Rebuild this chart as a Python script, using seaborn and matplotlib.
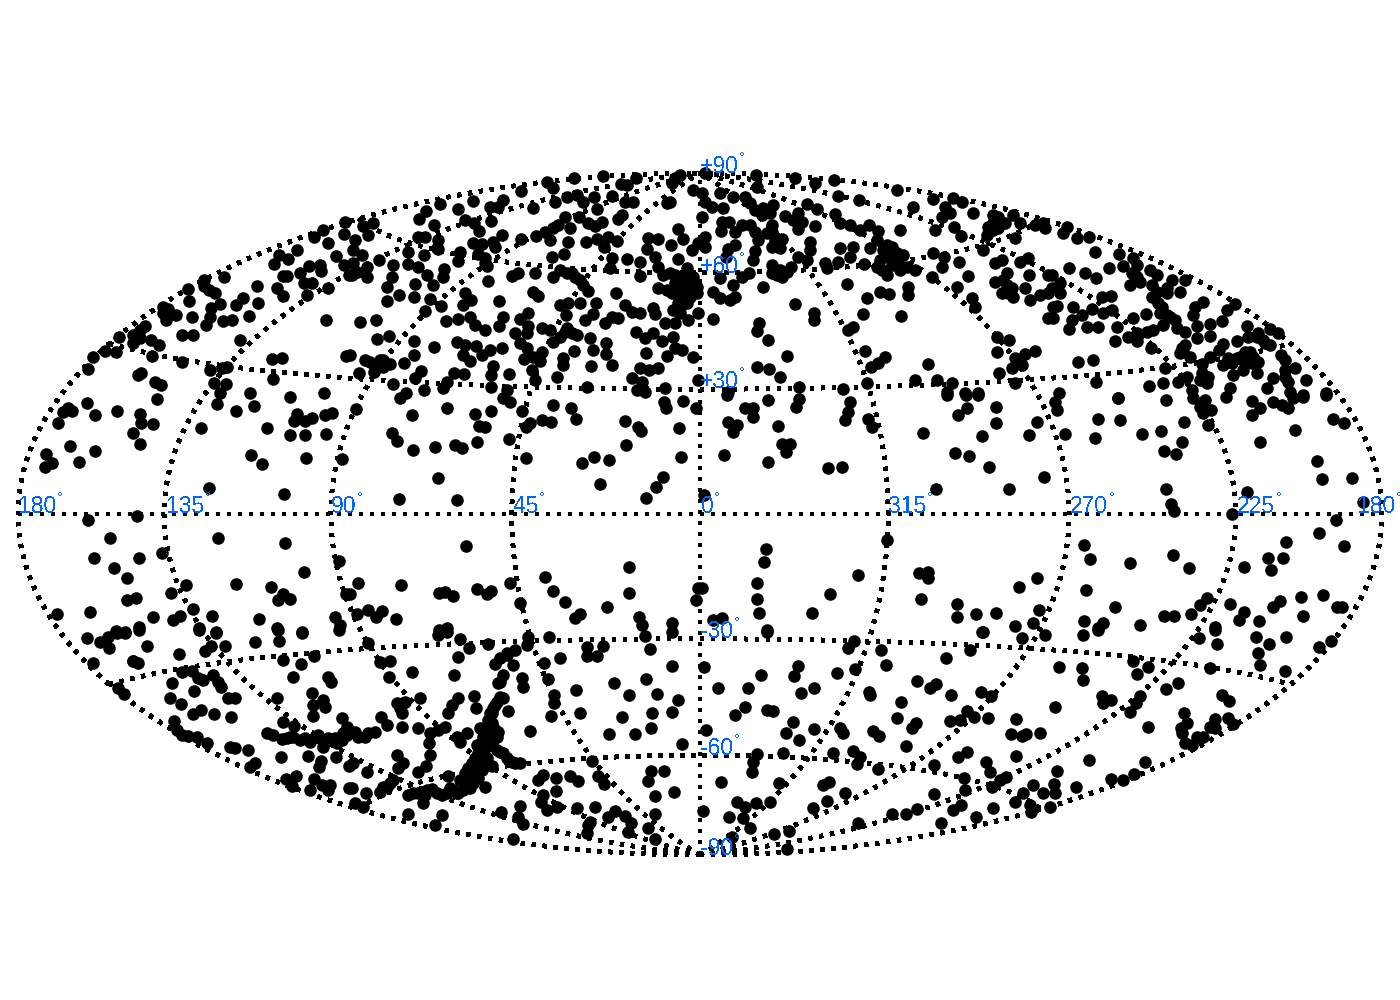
import numpy as np
import matplotlib
matplotlib.use("Agg")
import matplotlib.pyplot as plt
import seaborn as sns
import pandas as pd

# Source positions, grouped by sky patch.
# Each patch is read at 3x, relative to its own corner.
north_1 = [(1035,187),(970,211),(943,230),(1032,222),(983,249),(1008,289),(1032,315),(1048,345),(890,270),(838,284),(865,298),(823,312),(927,318),(961,316),(963,332),(899,338),(848,347),(860,348),(913,368),(935,370),(983,385),(922,406),(770,379),(830,385),(849,407),(672,352),(612,360),(612,378),(628,390),(645,400),(565,388),(567,423),(730,415),(707,436),(775,430),(660,432),(633,445),(630,470),(617,495),(670,482),(697,481),(747,468),(978,479),(575,472),(528,466),(505,447),(488,442),(490,460),(498,480),(436,497),(420,510),(357,530),(398,525),(400,548),(420,535),(453,540),(477,555),(546,526),(580,526),(720,539),(280,592),(315,574),(347,577),(264,627),(457,589),(545,606),(1038,587),(815,598),(846,593),(630,629),(665,625),(680,622),(422,640),(415,645),(465,665),(483,676),(642,668),(678,673),(818,657),(660,698),(750,698),(870,710),(973,700)]
north_2 = [(672,55),(760,48),(858,55),(590,65),(610,85),(512,93),(830,75),(812,72),(965,70),(975,55),(990,45),(1030,90),(680,105),(650,112),(615,125),(700,125),(733,112),(785,108),(825,125),(850,125),(960,125),(950,130),(740,148),(550,145),(458,120),(420,140),(445,140),(370,122),(323,147),(270,133),(228,153),(208,178),(345,180),(372,188),(422,183),(388,213),(252,196),(70,190),(38,197),(55,225),(815,165),(803,178),(688,170),(645,172),(715,188),(735,197),(757,187),(625,195),(608,205),(585,215),(558,228),(660,205),(600,240),(655,245),(513,238),(457,225),(430,245),(205,230),(225,232),(265,240),(262,265),(397,252),(368,248),(435,262),(383,283),(405,295),(410,318),(330,275),(325,303),(222,285),(175,275),(265,268),(708,245),(740,238),(775,232),(800,242),(762,262),(983,207),(895,235),(925,238),(963,256),(1000,238),(1025,270),(890,268),(915,292),(925,320),(940,345),(985,297),(1045,250),(785,295),(780,325),(832,298),(870,307),(870,347),(605,290),(643,283),(15,240),(10,270),(35,285),(87,300),(10,310),(50,320),(20,335),(5,345),(52,352),(130,315),(125,350),(110,380),(175,312),(205,320),(195,372),(230,345),(250,375),(282,328),(280,352),(193,410),(148,404),(112,424),(240,418),(274,438),(225,452),(345,400),(362,420),(340,435),(448,422),(413,362),(485,348),(505,340),(555,338),(610,350),(630,330),(665,340),(690,360),(700,375),(715,393),(550,395),(565,407),(797,398),(630,435),(655,430),(690,428),(738,430),(648,465),(730,462),(705,480),(825,435),(845,455),(870,458),(908,445),(915,462),(975,345),(1010,325),(990,370),(1030,350),(925,385),(950,390),(985,390),(1000,420),(970,450),(990,445),(1040,400),(1015,480),(945,490),(975,490),(1045,460),(30,485),(77,480),(288,482),(323,477),(360,470),(375,495),(405,510),(458,470),(448,498),(535,460),(510,478),(535,497),(495,520),(510,550),(575,505),(600,510),(650,505),(630,530),(610,545),(680,525),(720,535),(785,470),(765,490),(805,475),(858,515),(885,535),(910,520),(935,543),(970,530),(975,565),(995,570),(950,587),(1030,590),(768,550),(768,582),(730,570),(672,573),(530,565),(575,575),(522,597),(570,603),(640,595),(640,615),(723,617),(785,615),(888,580),(82,538),(118,527),(192,544),(252,562),(322,545),(345,555),(378,557),(420,570),(455,563),(395,585),(340,585),(360,602),(45,600),(90,600),(120,612),(75,620),(100,620),(72,635),(162,610),(192,585),(212,632),(195,655),(0,585),(28,640),(130,672),(168,700),(222,690),(312,640),(342,643),(290,665),(280,685),(430,617),(422,645),(478,642),(545,630),(555,660),(622,650),(870,625),(925,625),(898,630),(845,655),(875,665),(860,690),(422,682),(470,690),(712,682),(945,685),(1045,660),(885,695),
           (960,340),(975,370),(1000,350),(1010,380),(1000,400),(1020,410),(965,400),(1010,430),(985,430),(990,460),(1040,380),(975,400),(1015,360),(645,515),(665,520),(530,520),(550,590),(100,600),(60,605),(405,310),(650,340),(675,350)]
north_3 = [(168,45),(285,53),(345,70),(403,60),(170,82),(15,40),(60,100),(100,112),(135,110),(150,130),(415,108),(478,120),(592,90),(640,140),(700,118),(760,115),(785,125),(735,140),(750,160),(725,172),(818,160),(5,100),(15,125),(70,143),(35,140),(165,150),(185,165),(220,135),(210,160),(255,167),(295,160),(320,133),(350,148),(280,180),(305,185),(295,208),(345,197),(405,163),(420,190),(450,195),(480,210),(508,195),(535,212),(5,170),(65,185),(88,185),(63,212),(105,215),(125,195),(150,195),(165,215),(215,195),(200,218),(175,240),(245,238),(600,210),(705,210),(762,202),(782,228),(530,240),(560,255),(510,265),(575,260),(15,230),(15,260),(105,255),(85,268),(77,290),(215,260),(240,265),(330,245),(330,270),(320,300),(295,290),(165,273),(160,300),(420,265),(458,260),(450,290),(375,310),(415,305),(380,325),(493,312),(530,320),(565,290),(590,310),(610,285),(560,345),(575,315),(620,320),(645,330),(700,280),(733,290),(727,322),(778,305),(803,348),(695,352),(215,315),(272,320),(215,340),(245,350),(260,335),(148,340),(125,350),(100,375),(60,355),(40,395),(60,415),(90,420),(105,410),(188,382),(442,373),(500,415),(540,397),(567,403),(623,382),(623,405),(770,380),(815,413),(825,440),(285,433),(343,458),(343,480),(38,478),(488,463),(603,467),(178,488),(170,512),(205,540),(460,500),(445,510),(262,587),(495,572),(890,530),(928,540),(892,577),(555,590),(535,608),(513,620),(683,611),(172,622),(207,627),(240,650),(298,680),(430,688),(500,670),(645,660),(712,660),(755,670),(740,695),(795,700),(835,700),(898,640),(945,668),(85,697),(935,625),(965,615),(1005,572),(975,582),(945,595),(905,300),(885,310),(960,305),(985,295),(988,345),(920,340),(885,365),(910,360),(935,385),(905,400),(940,410),(975,385),(990,420),(1020,405),(1045,400),(1045,345),(880,165),(880,190),(863,200),(895,205),(860,225),(945,235),(915,190),(938,165),(960,190),(1005,195),(1035,205),(1045,475),(850,270),(1030,190),
           (545,330),(600,330),(540,300),(590,280),(550,270),(230,345),(240,330),(190,145),(215,215),(225,240),(920,375),(925,400),(880,210),(895,170)]
north_4 = [(52,200),(40,218),(80,235),(118,232),(135,275),(208,283),(248,295),(220,318),(262,315),(58,323),(105,340),(138,355),(176,325),(5,345),(300,330),(320,345),(365,360),(405,360),(255,345),(240,375),(270,365),(305,375),(350,385),(390,397),(305,410),(325,430),(335,440),(458,427),(435,442),(555,432),(530,450),(430,465),(155,410),(183,408),(30,370),(30,400),(5,385),(10,440),(20,438),(8,475),(70,442),(125,448),(95,465),(65,480),(58,507),(110,500),(143,502),(185,450),(160,460),(340,495),(350,465),(375,480),(380,505),(405,515),(442,497),(480,492),(515,483),(250,475),(289,463),(200,500),(195,542),(235,530),(260,520),(260,542),(290,515),(310,510),(442,533),(480,528),(592,498),(660,508),(685,520),(620,530),(595,530),(645,550),(660,555),(562,542),(520,553),(508,570),(480,592),(302,565),(395,565),(405,555),(390,580),(420,590),(455,612),(455,640),(470,670),(585,575),(560,595),(610,590),(625,605),(520,615),(550,645),(580,630),(622,640),(692,585),(705,600),(735,625),(705,630),(715,665),(670,655),(650,685),(767,660),(540,685),(425,690),(410,650),(385,665),(345,625),(340,668),(297,678),(83,607),(128,601),(138,665),(28,700),(205,715),(760,705),(720,695),(828,700),(570,590),(600,575),
           (245,340),(260,350),(320,395),(350,400),(330,460),(360,470),(400,575),(450,660),(475,650),(535,595),(545,610),(580,600),(605,610),(640,540),(625,520),(705,650)]
middle_1 = [(470,12),(260,25),(350,47),(205,40),(190,50),(217,48),(285,60),(175,84),(420,57),(423,85),(460,88),(400,113),(421,147),(210,152),(138,178),(155,205),(135,215),(236,200),(285,168),(652,27),(708,48),(763,33),(603,98),(800,99),(890,57),(882,78),(915,78),(937,70),(975,60),(995,55),(870,121),(916,120),(978,116),(753,181),(787,208),(918,188),(1025,193),(628,280),(852,297),(265,376),(410,363),(330,430),(653,428),(855,444),(485,473),(282,490),(418,490),(343,520),(382,549),(1017,498),(911,532),(558,571),(514,595),(708,567),(812,577),(848,598),(835,615),(870,612),(1038,597),(382,615),(407,608),(170,658),(270,652),(580,642),(637,662),(540,663),(518,676),(460,667),(778,672),(1005,665),(1020,690),(417,697),(347,708),(375,710),(598,698),(830,700),(647,712),(905,710)]
middle_2 = [(18,42),(185,60),(290,38),(375,58),(422,49),(388,94),(405,96),(127,114),(140,138),(188,165),(255,155),(315,150),(335,158),(382,141),(478,132),(527,189),(263,250),(148,312),(320,316),(460,10),(480,20),(515,48),(608,29),(662,40),(678,72),(575,76),(603,82),(540,83),(528,97),(825,77),(865,97),(872,107),(827,150),(943,20),(947,40),(1000,19),(1038,38),(988,100),(992,187),(697,203),(733,186),(776,196),(750,267),(940,247),(917,275),(888,309),(347,454),(838,515),(837,593),(586,546),(610,589),(645,622),(481,563),(510,625),(771,635),(690,657),(675,670),(867,665),(875,690),(965,685),(1045,580),(1037,615),(24,565),(152,570),(268,595),(285,590),(310,603),(380,581),(423,587),(410,596),(0,598),(55,645),(95,647),(22,658),(78,667),(137,673),(268,705),(290,700),(150,8)]
middle_3 = [(205,15),(298,12),(288,37),(135,40),(158,38),(160,65),(85,80),(110,90),(100,112),(235,92),(72,181),(245,147),(270,148),(259,172),(205,200),(385,218),(425,215),(450,20),(445,50),(435,75),(505,72),(517,95),(670,115),(740,0),(797,0),(835,0),(888,36),(887,85),(800,40),(775,60),(1010,80),(987,120),(847,124),(766,173),(807,183),(868,217),(1033,247),(707,282),(927,283),(12,300),(562,435),(197,463),(193,502),(475,541),(171,565),(170,613),(178,655),(391,598),(336,654),(657,533),(685,530),(685,550),(664,611),(1011,550),(956,576),(772,628),(772,665),(829,658),(889,653),(1016,644),(1000,683),(945,693),(848,710),(5,580),(40,675),(65,670),(200,705),(82,0)]
middle_4 = [(205,10),(347,15),(430,10),(465,15),(450,35),(483,45),(460,55),(528,5),(607,17),(630,40),(607,60),(670,20),(695,30),(715,40),(730,10),(760,5),(828,0),(143,71),(211,75),(403,80),(473,90),(850,73),(882,84),(736,104),(277,116),(333,109),(46,116),(136,128),(631,141),(397,142),(341,168),(379,177),(802,197),(817,251),(906,248),(347,283),(591,290),(940,322),(362,328),(373,348),(547,356),(857,376),(808,414),(709,441),(883,452),(102,450),(120,493),(368,481),(240,503),(416,520),(654,490),(698,489),(664,525),(583,516),(109,585),(196,637),(472,610),(450,630),(424,657),(341,664),(373,664),(541,628),(582,650),(568,675),(626,679),(670,635),(690,617),(752,606),(820,601),(860,635),(875,636),(760,664),(103,679),(160,683),(145,700),(271,691),(495,697),(15,20),(20,45)]
south_1 = [(260,25),(300,35),(325,20),(350,10),(375,10),(327,55),(440,47),(417,0),(598,0),(647,10),(766,35),(837,33),(833,0),(905,10),(1018,0),(632,47),(615,63),(675,47),(538,73),(280,100),(398,92),(413,100),(849,90),(943,78),(902,102),(878,142),(985,140),(993,157),(545,125),(575,122),(595,145),(608,150),(640,135),(655,155),(663,172),(516,159),(583,184),(510,205),(543,223),(683,204),(705,204),(830,204),(935,190),(940,225),(970,210),(975,230),(940,258),(580,252),(604,239),(641,253),(692,262),(1027,263),(850,277),(882,287),(523,274),(530,300),(545,315),(565,318),(590,320),(800,310),(820,315),(845,327),(880,320),(900,330),(930,335),(955,315),(985,325),(1040,290),(1025,330),(968,350),(620,338),(690,352),(705,353),(745,360),(843,381),(925,378),(1009,382),(962,392),(958,412),(765,400),(750,412),(857,447),(888,438),(875,468),(941,448),(965,465),(990,465),(930,480),(985,480),(1048,408),(1048,475),(355,175),(373,193),
           (860,325),(915,325),(945,320),(1005,325),(1010,340),(1040,315),(1030,310),(870,320),(965,330),(400,92)]
south_2 = [(55,40),(265,15),(290,5),(330,28),(357,55),(415,43),(325,80),(90,95),(120,92),(117,142),(187,127),(313,134),(470,70),(495,60),(535,20),(530,45),(435,102),(490,105),(597,21),(712,50),(760,47),(710,78),(742,77),(901,56),(885,18),(965,5),(630,83),(581,100),(966,109),(517,145),(520,170),(593,147),(450,155),(460,135),(793,160),(889,147),(678,180),(838,194),(922,193),(985,211),(613,195),(613,220),(460,205),(435,225),(140,220),(165,215),(210,205),(325,205),(305,225),(295,250),(372,198),(377,235),(475,242),(425,250),(690,250),(603,259),(817,262),(905,250),(967,246),(92,262),(110,285),(155,250),(155,292),(285,292),(205,295),(240,310),(265,300),(350,310),(320,320),(330,335),(390,295),(430,290),(440,320),(540,302),(776,311),(855,312),(903,293),(995,341),(15,305),(45,320),(75,305),(425,335),(380,345),(140,375),(240,376),(238,340),(400,365),(460,370),(485,395),(510,400),(10,400),(160,398),(145,415),(227,408),(205,425),(50,425),(727,394),(745,438),(763,463),(903,423),(895,453),(943,424),(395,400),(370,420),(425,408),(345,445),(380,440),(405,470),(295,437),(300,475),(325,490),(275,495),(245,478),(205,490),(175,495),(218,520),(90,485),(130,450),(110,470),(48,488),(5,475),(15,520),(40,530),(565,450),(580,435),(618,443),(660,437),(683,452),(619,483),(916,498),(973,485),(578,495),(572,515),(590,540),(620,530),(511,527),(505,560),(520,582),(682,535),(735,532),(916,552),(775,560),(795,543),(825,557),(843,578),(833,605),(893,595),(915,628),(453,545),(173,553),(277,555),(255,585),(488,626),(715,585),(710,610),(720,575),
           (450,200),(440,215),(430,235),(420,250),(415,270),(425,280),(410,295),(435,300),(420,310),(445,305),(400,320),(430,320),(410,335),(395,345),(405,355),(420,345),(385,370),(400,375),(375,385),(395,390),(365,400),(385,405),(410,385),(355,415),(375,425),(395,420),(345,430),(365,440),(385,445),(350,455),(330,450),(370,460),(360,475),(440,360),(450,365),(470,385),(495,400),(415,405),(190,490),(230,480),(260,490),(290,490),(310,480),(340,480),(225,495),(320,490),(160,220),(150,235),(25,320),(55,310),(100,470),(120,460),(470,75),(450,85),(445,160)]
south_3 = [(200,5),(847,5),(965,25),(1035,15),(443,55),(462,33),(544,60),(810,60),(737,84),(558,104),(12,110),(295,109),(283,138),(182,135),(412,129),(466,116),(55,175),(143,175),(304,189),(343,175),(651,154),(707,163),(690,175),(508,185),(510,195),(753,195),(843,185),(873,197),(603,215),(136,230),(106,255),(200,240),(220,243),(592,264),(279,277),(648,280),(637,293),(750,272),(780,270),(800,243),(822,262),(864,265),(949,266),(257,308),(343,296),(420,295),(430,308),(520,302),(537,318),(298,329),(18,301),(932,311),(965,318),(978,312),(1020,308),(617,347),(170,372),(160,395),(157,427),(248,369),(400,370),(458,363),(480,380),(472,402),(535,418),(702,405),(773,380),(802,365),(947,377),(858,396),(869,427),(791,443),(63,455),(238,460),(370,465),(388,456),(795,480),(875,470),(900,450),(918,440),(1000,465),(1030,490),(436,490),(702,492),(382,512),(338,534),(945,515),(970,490),(990,525),(992,545),(110,516),(135,530),(168,519),(211,516),(8,543),(88,561),(130,563),(150,595),(783,525),(760,541),(879,535),(829,561),(722,578),(652,536),(617,552),(575,552),(475,580),(268,603),(222,612),(97,622),(261,657)]
south_4 = [(98,15),(145,0),(447,25),(495,0),(500,43),(617,20),(658,43),(709,22),(625,68),(629,104),(808,52),(843,34),(250,92),(295,110),(260,133),(28,112),(95,113),(99,151),(479,115),(706,122),(384,158),(347,178),(155,197),(160,220),(183,210),(270,197),(257,220),(240,247),(515,195),(537,213),(16,232),(402,250),(412,280),(392,295),(395,310),(495,268),(480,290),(495,295),(535,263),(548,283),(293,291),(405,340),(425,345),(440,322),(460,322),(116,390),(286,396),(20,422),(253,431),(182,446),(219,450),(79,471),(12,462),(15,488),(0,530)]

patches = [(north_1,0,160),(north_2,350,160),(north_3,700,160),(north_4,1050,160),
           (middle_1,0,395),(middle_2,350,395),(middle_3,700,395),(middle_4,1050,395),
           (south_1,0,630),(south_2,350,630),(south_3,700,630),(south_4,1050,630)]

lon_labels = ["180", "135", "90", "45", "0", "315", "270", "225", "180"]
lon_label_left = [18, 166, 331, 513, 701, 888, 1070, 1237, 1357]
lat_labels = ["+90", "+60", "+30", "-30", "-60", "-90"]
lat_label_base = [173, 273, 388, 638, 755, 855]
graticule_lons = [-180, -135, -90, -45, 0, 45, 90, 135, 180]
graticule_lats = [-60, -30, 0, 30, 60]

# Map frame: Hammer-Aitoff plane, scale in pixels per plane unit
W, H = 1400, 1000
CX, CY = 700.0, 514.0
SCALE = 682.0 / (2 * np.sqrt(2))


def hammer(lon_deg, lat_deg):
    lon = np.radians(lon_deg) / 2
    lat = np.radians(lat_deg)
    d = np.sqrt(1 + np.cos(lat) * np.cos(lon))
    return 2 * np.sqrt(2) * np.cos(lat) * np.sin(lon) / d, np.sqrt(2) * np.sin(lat) / d


rows = []
for pts, x0, y0 in patches:
    for cx, cy in pts:
        rows.append(((x0 + cx / 3 - CX) / SCALE, (CY - y0 - cy / 3) / SCALE))
sources = pd.DataFrame(rows, columns=["x", "y"])

sns.set_theme(style="white")
plt.rcParams["font.family"] = ["Liberation Sans", "DejaVu Sans"]
plt.rcParams["text.antialiased"] = False

fig = plt.figure(figsize=(14, 10), dpi=100)
ax = fig.add_axes([0, 0, 1, 1])
ax.set_xlim(-CX / SCALE, (W - CX) / SCALE)
ax.set_ylim((CY - H) / SCALE, CY / SCALE)
ax.axis("off")

LW = 3.5 * 72 / 100
dots = dict(color="black", lw=LW, linestyle=(0, (1, 2.14)), dash_capstyle="butt",
            antialiased=False, zorder=1)
for lon in graticule_lons:
    xs, ys = hammer(np.full(400, lon), np.linspace(-90, 90, 400))
    ax.plot(xs, ys, **dots)
for lat in graticule_lats:
    xs, ys = hammer(np.linspace(-180, 180, 600), np.full(600, lat))
    ax.plot(xs, ys, **dots)

sns.scatterplot(data=sources, x="x", y="y", ax=ax, s=82, color="black",
                linewidth=0, antialiased=False, legend=False, zorder=2)
ax.set_xlabel("")
ax.set_ylabel("")

BLUE = "#0066ff"
FS = 16.5


def label(text, left_px, base_px):
    t = ax.text((left_px - CX) / SCALE, (CY - base_px) / SCALE, text, color=BLUE,
                fontsize=FS, ha="left", va="baseline", zorder=3)
    ax.annotate("°", xy=(1, 1), xycoords=t, xytext=(0.5, -2.5), textcoords="offset points",
                color=BLUE, fontsize=10, ha="left", va="center", zorder=3)


for text, left in zip(lon_labels, lon_label_left):
    label(text, left, 513)
for text, base in zip(lat_labels, lat_label_base):
    label(text, 700, base)

fig.savefig("out.png", dpi=100, facecolor="white")
